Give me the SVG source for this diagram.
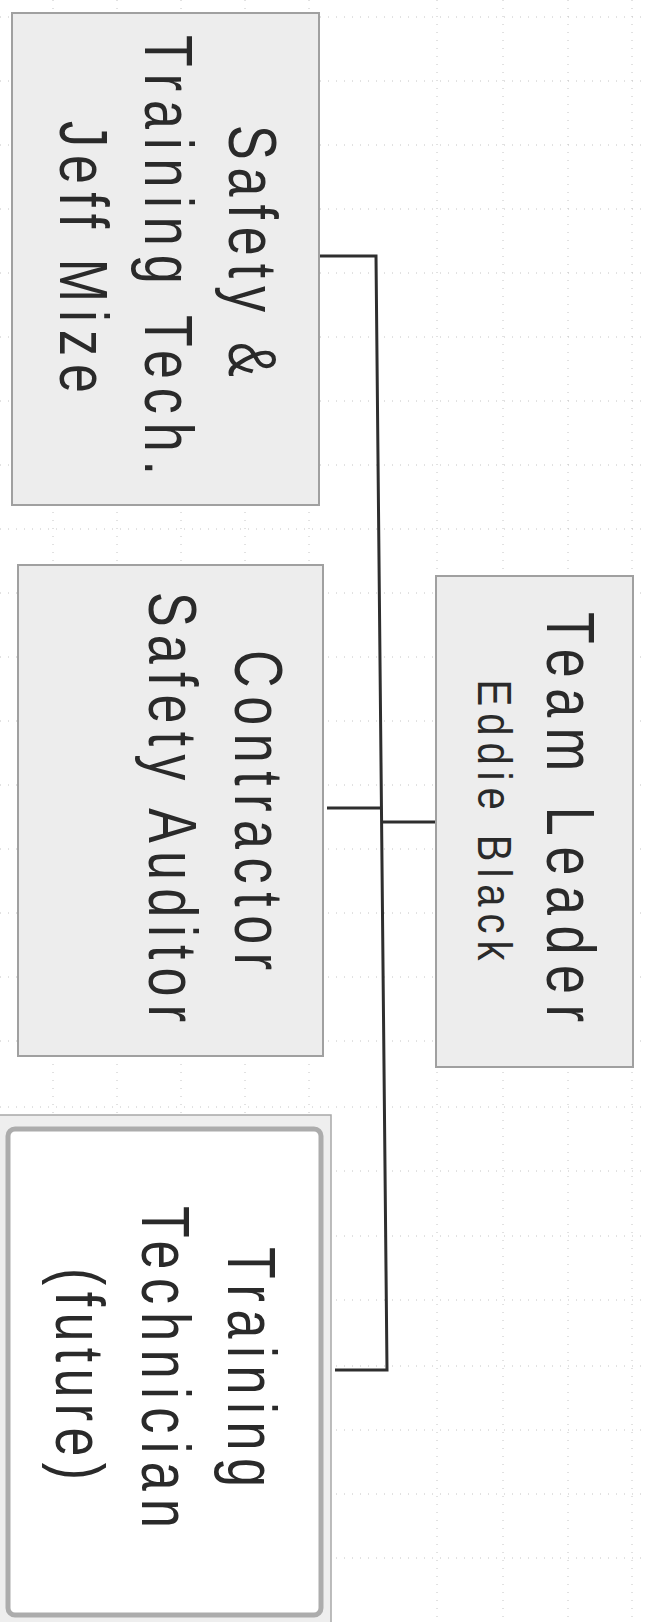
<svg xmlns="http://www.w3.org/2000/svg" width="645" height="1622" viewBox="0 0 645 1622">
<defs>
<style>
.grid line{stroke:#c4c4c4;stroke-width:1;stroke-dasharray:1 7}
.box{fill:#ededed;stroke:#a0a0a0;stroke-width:2}
.t{font-family:"Liberation Sans",Arial,sans-serif;font-size:52px;fill:#2a2a2a;text-anchor:middle}
.s{font-family:"Liberation Sans",Arial,sans-serif;font-size:40px;fill:#2a2a2a;text-anchor:middle}
.conn{fill:none;stroke:#2e2e2e;stroke-width:3;stroke-linejoin:miter}
</style>
</defs>
<rect x="0" y="0" width="645" height="1622" fill="#ffffff"/>
<g class="grid">
<line x1="53" y1="0" x2="53" y2="1622"/>
<line x1="117" y1="0" x2="117" y2="1622"/>
<line x1="181" y1="0" x2="181" y2="1622"/>
<line x1="245" y1="0" x2="245" y2="1622"/>
<line x1="309" y1="0" x2="309" y2="1622"/>
<line x1="437" y1="0" x2="437" y2="1622"/>
<line x1="503" y1="0" x2="503" y2="1622"/>
<line x1="568" y1="0" x2="568" y2="1622"/>
<line x1="632" y1="0" x2="632" y2="1622"/>
<line x1="0" y1="17" x2="645" y2="17"/>
<line x1="0" y1="81" x2="645" y2="81"/>
<line x1="0" y1="145" x2="645" y2="145"/>
<line x1="0" y1="209" x2="645" y2="209"/>
<line x1="0" y1="273" x2="645" y2="273"/>
<line x1="0" y1="337" x2="645" y2="337"/>
<line x1="0" y1="401" x2="645" y2="401"/>
<line x1="0" y1="465" x2="645" y2="465"/>
<line x1="0" y1="529" x2="645" y2="529"/>
<line x1="0" y1="593" x2="645" y2="593"/>
<line x1="0" y1="657" x2="645" y2="657"/>
<line x1="0" y1="721" x2="645" y2="721"/>
<line x1="0" y1="785" x2="645" y2="785"/>
<line x1="0" y1="849" x2="645" y2="849"/>
<line x1="0" y1="913" x2="645" y2="913"/>
<line x1="0" y1="977" x2="645" y2="977"/>
<line x1="0" y1="1041" x2="645" y2="1041"/>
<line x1="0" y1="1107" x2="645" y2="1107"/>
<line x1="0" y1="1171" x2="645" y2="1171"/>
<line x1="0" y1="1236" x2="645" y2="1236"/>
<line x1="0" y1="1300" x2="645" y2="1300"/>
<line x1="0" y1="1366" x2="645" y2="1366"/>
<line x1="0" y1="1430" x2="645" y2="1430"/>
<line x1="0" y1="1494" x2="645" y2="1494"/>
<line x1="0" y1="1558" x2="645" y2="1558"/>
</g>
<g id="connectors">
<polyline class="conn" points="318,256 376,256 387,1370 335,1370"/>
<line class="conn" x1="327" y1="808" x2="381.5" y2="808"/>
<line class="conn" x1="381.6" y1="822" x2="436" y2="822"/>
</g>
<g id="safety-training-tech">
<rect class="box" x="12" y="13" width="307" height="492"/>
<text class="t" transform="translate(229,251) rotate(90) scale(1,1.3)" textLength="252" lengthAdjust="spacing">Safety &amp;</text>
<text class="t" transform="translate(145,255) rotate(90) scale(1,1.3)" textLength="440" lengthAdjust="spacing">Training Tech.</text>
<text class="t" transform="translate(60,257) rotate(90) scale(1,1.3)" textLength="272" lengthAdjust="spacing">Jeff Mize</text>
</g>
<g id="contractor-safety-auditor">
<rect class="box" x="18" y="565" width="305" height="491"/>
<text class="t" transform="translate(235,810) rotate(90) scale(1,1.3)" textLength="320" lengthAdjust="spacing">Contractor</text>
<text class="t" transform="translate(149,807) rotate(90) scale(1,1.3)" textLength="430" lengthAdjust="spacing">Safety Auditor</text>
</g>
<g id="team-leader">
<rect class="box" x="436" y="576" width="197" height="491"/>
<text class="t" transform="translate(547,817) rotate(90) scale(1,1.3)" textLength="410" lengthAdjust="spacing">Team Leader</text>
<text class="s" transform="translate(478,820) rotate(90) scale(1,1.2)" textLength="281" lengthAdjust="spacing">Eddie Black</text>
</g>
<g id="training-technician">
<rect x="-5" y="1115" width="336" height="520" fill="#eeeeee" stroke="#a8a8a8" stroke-width="1.5"/>
<rect x="8" y="1129" width="313" height="486" rx="7" fill="#ffffff" stroke="#acacac" stroke-width="5"/>
<text class="t" transform="translate(228,1367) rotate(90) scale(1,1.3)" textLength="240" lengthAdjust="spacing">Training</text>
<text class="t" transform="translate(142,1367) rotate(90) scale(1,1.3)" textLength="322" lengthAdjust="spacing">Technician</text>
<text class="t" transform="translate(56,1374) rotate(90) scale(1,1.3)" textLength="212" lengthAdjust="spacing">(future)</text>
</g>
</svg>
